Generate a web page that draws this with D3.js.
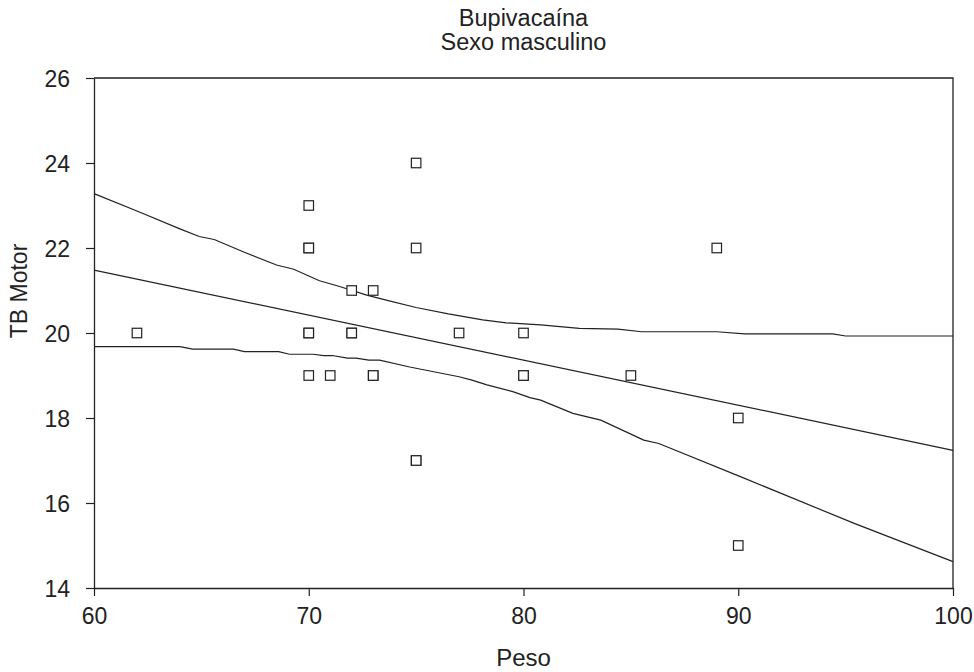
<!DOCTYPE html>
<html>
<head>
<meta charset="utf-8">
<script src="https://cdn.jsdelivr.net/npm/d3@7"></script>
<style>
  body { margin: 0; background: #fff; }
  text { font-family: "Liberation Sans", Arial, sans-serif; fill: #222; }
</style>
</head>
<body>
<svg id="chart" width="974" height="672"></svg>
<script>
// observed points: Peso vs TB Motor (duplicates kept, they print darker)
const peso    = [62, 70, 70, 70, 70, 70, 70, 71, 72, 72, 72, 73, 73, 73, 75, 75, 75, 75, 77, 80, 80, 80, 85, 89, 90, 90];
const tbMotor = [20, 23, 22, 22, 20, 20, 19, 19, 21, 20, 20, 21, 19, 19, 24, 22, 17, 17, 20, 20, 19, 19, 19, 22, 18, 15];

// fitted regression line
const fitX = [60, 100];
const fitY = [21.48, 17.24];

// confidence band
const upperX = [60, 62, 64, 64.9, 65.6, 67, 68.5, 69.3, 70.5, 71.4, 72.7, 73.7, 75, 76.5, 78.1, 79.2, 80.8, 82.6, 84.4, 85.5, 89, 90.3, 94.4, 95, 100];
const upperY = [23.28, 22.87, 22.45, 22.27, 22.2, 21.9, 21.6, 21.5, 21.23, 21.1, 20.89, 20.76, 20.6, 20.45, 20.31, 20.24, 20.19, 20.11, 20.09, 20.03, 20.03, 19.98, 19.98, 19.93, 19.93];
const lowerX = [60, 64, 64.6, 66.5, 67, 68.6, 69.1, 70.2, 70.7, 71.1, 71.8, 72.2, 72.8, 73.3, 74.7, 77, 77.6, 78.3, 79.5, 80.3, 80.8, 82.3, 83.6, 85.6, 86.3, 90.1, 95.4, 100];
const lowerY = [19.68, 19.68, 19.62, 19.62, 19.56, 19.56, 19.5, 19.5, 19.47, 19.47, 19.41, 19.41, 19.36, 19.36, 19.2, 18.97, 18.89, 18.78, 18.62, 18.48, 18.42, 18.11, 17.95, 17.48, 17.4, 16.62, 15.52, 14.62];

const xTicks = [60, 70, 80, 90, 100];
const yTicks = [14, 16, 18, 20, 22, 24, 26];

const margin = { top: 78, right: 21, bottom: 84, left: 94 };
const width = 974, height = 672;
const ink = "#222";

const svg = d3.select("#chart");

const x = d3.scaleLinear().domain([60, 100]).range([margin.left, width - margin.right]);
const y = d3.scaleLinear().domain([14, 26]).range([height - margin.bottom, margin.top]);

// frame (top and right sides)
svg.append("path")
  .attr("d", `M${x(60)},${y(26)}H${x(100)}V${y(14)}`)
  .attr("fill", "none")
  .attr("stroke", ink)
  .attr("stroke-width", 1.3);

const xAxis = svg.append("g")
  .attr("transform", `translate(0,${y(14)})`)
  .call(d3.axisBottom(x).tickValues(xTicks).tickSize(8).tickPadding(12).tickSizeOuter(0));

const yAxis = svg.append("g")
  .attr("transform", `translate(${x(60)},0)`)
  .call(d3.axisLeft(y).tickValues(yTicks).tickSize(8).tickPadding(16).tickSizeOuter(0));

[xAxis, yAxis].forEach(g => {
  g.select(".domain").attr("stroke", ink).attr("stroke-width", 1.3);
  g.selectAll(".tick line").attr("stroke", ink).attr("stroke-width", 1.2);
  g.selectAll(".tick text")
    .attr("fill", ink)
    .style("font-size", "23px")
    .style("font-family", "'Liberation Sans', Arial, sans-serif");
});
yAxis.selectAll(".tick text").attr("dy", "0.36em");

const line = d3.line().x(d => x(d[0])).y(d => y(d[1]));

const series = [
  d3.zip(fitX, fitY),
  d3.zip(upperX, upperY),
  d3.zip(lowerX, lowerY)
];

svg.append("g").selectAll("path")
  .data(series)
  .join("path")
  .attr("d", line)
  .attr("fill", "none")
  .attr("stroke", ink)
  .attr("stroke-width", 1.2);

const pts = d3.zip(peso, tbMotor);
const s = 9.5;
svg.append("g").selectAll("rect")
  .data(pts)
  .join("rect")
  .attr("x", d => x(d[0]) - s / 2)
  .attr("y", d => y(d[1]) - s / 2)
  .attr("width", s)
  .attr("height", s)
  .attr("fill", "#fff")
  .attr("stroke", ink)
  .attr("stroke-width", 1.2);

// titles
const cx = (x(60) + x(100)) / 2;
svg.append("text").attr("x", cx).attr("y", 26).attr("text-anchor", "middle")
  .style("font-size", "23.5px").text("Bupivacaína");
svg.append("text").attr("x", cx).attr("y", 50).attr("text-anchor", "middle")
  .style("font-size", "23.5px").text("Sexo masculino");

svg.append("text").attr("x", cx).attr("y", 666).attr("text-anchor", "middle")
  .style("font-size", "24px").text("Peso");

svg.append("text")
  .attr("transform", `translate(27,${(y(14) + y(26)) / 2 - 42}) rotate(-90)`)
  .attr("text-anchor", "middle")
  .style("font-size", "23px")
  .text("TB Motor");
</script>
</body>
</html>
